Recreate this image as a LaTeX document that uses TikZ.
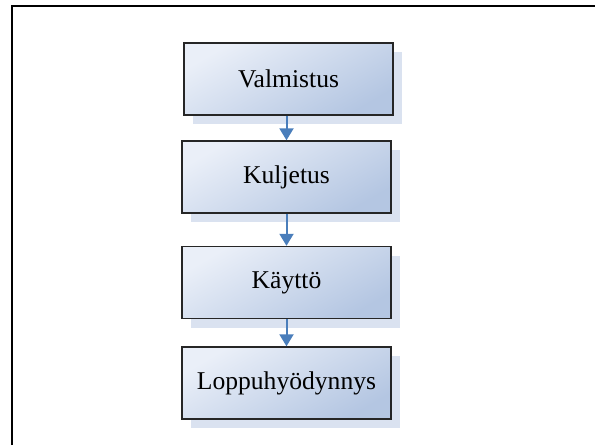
\documentclass[tikz,border=0pt]{standalone}
\usepackage{fontspec}
\setmainfont{Liberation Serif}
\usetikzlibrary{arrows.meta,shadows}
\definecolor{boxlight}{RGB}{234,239,248}
\definecolor{boxdark}{RGB}{180,198,226}
\definecolor{shadowblue}{RGB}{218,226,240}
\definecolor{arrowblue}{RGB}{74,126,187}
\begin{document}
\begin{tikzpicture}[
            x=0.5pt, y=-0.5pt,
            stage/.style={draw=black!85, line width=0.7pt, minimum width=104.5pt, minimum height=36pt,
                    top color=boxlight, bottom color=boxdark, shading angle=30,
                    font=\fontsize{12.8pt}{15pt}\selectfont,
                    drop shadow={shadow xshift=4.5pt, shadow yshift=-4.5pt, fill=shadowblue, opacity=1}},
            flow/.style={-{Triangle[width=7pt,length=6pt]}, line width=1pt, arrowblue}
        ]
        \useasboundingbox (0, 0) rectangle (595, 445);

        % kehys
        \draw[line width=1pt] (12, 445) -- (12, 6) -- (595, 6);

        % vaiheet
        \node[stage] (valm) at (288.5, 79) {Valmistus};
        \node[stage] (kulj) at (286.5, 177) {Kuljetus};
        \node[stage] (kaytto) at (286.5, 282.5) {Käyttö};
        \node[stage] (loppu) at (286.5, 383) {Loppuhyödynnys};

        % nuolet
        \draw[flow] (valm.south -| kulj) -- (kulj.north);
        \draw[flow] (kulj.south) -- (kaytto.north);
        \draw[flow] (kaytto.south) -- (loppu.north);
    \end{tikzpicture}
\end{document}
